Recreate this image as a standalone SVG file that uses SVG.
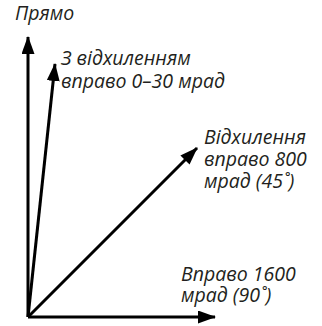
<svg xmlns="http://www.w3.org/2000/svg" width="322" height="326" viewBox="0 0 322 326">
<style>
.t{font-family:"Open Sans","Noto Sans",sans-serif;font-style:italic;font-size:19.5px;fill:#231f20}
.c{stroke:#000;stroke-width:3;fill:none}
</style>
<defs>
<marker id="ah" viewBox="0 0 18 13" refX="17" refY="6.5" markerWidth="18" markerHeight="13" markerUnits="userSpaceOnUse" orient="auto">
<path d="M0,0 L18,6.5 L0,13 Z" fill="#000"/>
</marker>
</defs>
<g id="connectors">
<line class="c" x1="28" y1="317" x2="28" y2="37" marker-end="url(#ah)"/>
<line class="c" x1="28" y1="317" x2="55" y2="64" marker-end="url(#ah)"/>
<line class="c" x1="28" y1="317" x2="197" y2="148" marker-end="url(#ah)"/>
<line class="c" x1="28" y1="317" x2="215" y2="317" marker-end="url(#ah)"/>
</g>
<g id="straight"><text class="t" x="15" y="20">Прямо</text></g>
<g id="small"><text class="t" x="61" y="65">З відхиленням<tspan x="61" dy="23">вправо 0–30 мрад</tspan></text></g>
<g id="mid"><text class="t" x="204" y="144">Відхилення<tspan x="204" dy="22">вправо 800</tspan><tspan x="204" dy="22">мрад (45˚)</tspan></text></g>
<g id="right"><text class="t" x="181" y="281">Вправо 1600<tspan x="181" dy="21">мрад (90˚)</tspan></text></g>
</svg>
